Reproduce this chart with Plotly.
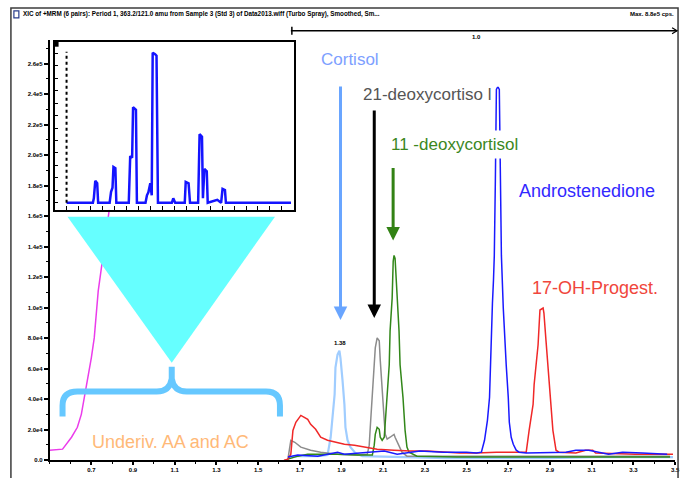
import plotly.graph_objects as go

W, H = 688, 481

# ---------------- data (time in min, intensity in cps) ----------------
# Underivatised AA/AC front (magenta)
t_mag = [0.500, 0.562, 0.605, 0.633, 0.652, 0.667, 0.681, 0.700, 0.714, 0.724, 0.733, 0.748, 0.767, 0.781, 0.786]
v_mag = [6500, 7200, 15000, 21500, 30000, 41000, 52800, 67100, 80100, 95100, 110800, 125700, 145300, 161600, 164200]

# 17-OH-Progesterone channel (red)
t_red = [1.624, 1.643, 1.657, 1.667, 1.681, 1.705, 1.738, 1.752, 1.776, 1.800, 1.833, 1.867, 1.914, 1.962,
         2.010, 2.071, 2.152, 2.229, 2.310, 2.390, 2.467, 2.548, 2.643, 2.738, 2.786, 2.800, 2.819, 2.824,
         2.833, 2.843, 2.848, 2.852, 2.867, 2.871, 2.881, 2.890, 2.895, 2.905, 2.914, 2.929, 2.943, 3.024,
         3.071, 3.105, 3.119, 3.310, 3.490]
v_red = [0, 650, 3900, 19500, 24800, 29300, 26700, 23500, 20200, 15000, 13000, 11700, 10400, 9800,
         8500, 7200, 6500, 5900, 5900, 5200, 4600, 4600, 5200, 5200, 5200, 19500, 36500, 49500,
         62500, 75600, 88600, 98400, 99700, 96400, 78200, 62500, 49500, 36500, 19500, 6500, 5200, 4600,
         6500, 6500, 4600, 3900, 3900]

# Androstenedione channel (blue)
t_blue = [1.643, 1.690, 1.786, 1.881, 1.914, 2.024, 2.105, 2.167, 2.276, 2.390, 2.500, 2.548, 2.571, 2.586,
          2.600, 2.610, 2.614, 2.619, 2.624, 2.629, 2.633, 2.638, 2.643, 2.648, 2.652, 2.657, 2.662, 2.667,
          2.676, 2.681, 2.690, 2.700, 2.705, 2.714, 2.724, 2.738, 2.752, 2.786, 2.976, 3.024, 3.086, 3.181,
          3.248, 3.343, 3.462]
v_blue = [2000, 3300, 2600, 5200, 3900, 5200, 5900, 3900, 5900, 5200, 5200, 4600, 5200, 13000,
          26100, 41000, 62500, 84700, 102900, 117900, 134200, 183100, 243000, 244300, 244300, 243000, 197400, 134200,
          99700, 84700, 62500, 41000, 24800, 15000, 10400, 6500, 5200, 4600, 5200, 6500, 6500, 3900,
          5200, 4600, 3900]

# 21-deoxycortisol channel (grey)
t_grey = [1.643, 1.657, 1.676, 1.705, 1.752, 1.800, 1.881, 1.976, 2.024, 2.033, 2.038, 2.048, 2.057, 2.062,
          2.071, 2.081, 2.086, 2.095, 2.105, 2.110, 2.119, 2.133, 2.152, 2.157, 2.176, 2.190, 2.214, 2.405,
          2.643, 2.881, 3.119, 3.357, 3.476]
v_grey = [650, 13000, 11700, 8500, 6500, 5200, 3900, 3300, 3900, 9800, 21500, 43000, 60600, 73600,
          80100, 78200, 65200, 43000, 26100, 16900, 13700, 15000, 16900, 15000, 9800, 5200, 2600, 2600,
          2600, 2600, 2600, 2600, 2600]

# 11-deoxycortisol channel (green)
t_green = [1.643, 1.690, 1.738, 1.881, 1.976, 2.048, 2.057, 2.062, 2.071, 2.081, 2.086, 2.095, 2.105, 2.119,
           2.129, 2.133, 2.143, 2.148, 2.152, 2.157, 2.167, 2.176, 2.181, 2.195, 2.205, 2.214, 2.224, 2.262,
           2.452, 2.738, 3.119, 3.476]
v_green = [650, 2600, 3900, 3900, 3300, 3300, 9800, 16900, 21500, 20200, 15000, 13000, 15000, 41000,
           62500, 84700, 106200, 130300, 134200, 132300, 110800, 84700, 62500, 41000, 19500, 8500, 5200, 2600,
           2000, 2000, 2000, 2000]

# Cortisol channel (light blue)
t_cort = [1.643, 1.690, 1.786, 1.833, 1.848, 1.857, 1.867, 1.871, 1.881, 1.890, 1.895, 1.905, 1.914, 1.919,
          1.929, 1.943, 1.967, 2.000, 2.167, 2.405, 2.643, 2.881, 3.119, 3.357, 3.490]
v_cort = [1300, 2600, 2600, 3300, 15000, 30000, 43000, 60600, 69100, 71700, 67100, 52100, 36500, 21500,
          13000, 8500, 4600, 2600, 2000, 1300, 1300, 1300, 2000, 2000, 2000]

# Inset: full-run chromatogram (relative intensity, %)
t_inset = [0.25, 0.80, 0.82, 0.85, 0.89, 0.91, 1.15, 1.18, 1.21, 1.23, 1.27, 1.29, 1.55, 1.58, 1.62, 1.64,
           1.70, 1.72, 1.90, 1.93, 1.96, 2.00, 2.03, 2.05, 2.10, 2.13, 2.16, 2.45, 2.48, 2.52, 2.72, 2.74,
           2.80, 2.83, 3.00, 3.03, 3.08, 3.10, 3.13, 3.18, 3.20, 3.40, 3.48, 3.51, 3.56, 3.58, 4.94]
v_inset = [0, 0, 3, 14.6, 13, 0, 0, 7.3, 10, 23.8, 23, 0, 0, 31.1, 30, 63.6,
           62, 0, 0, 5, 7, 13, 5, 100, 99, 98, 0, 0, 3, 0, 0, 13.9,
           13, 0, 0, 45.7, 44, 3, 22.5, 21, 0, 2, 0, 9.3, 8.5, 0, 0]

# tick labels
x_ticks = [0.7, 0.9, 1.1, 1.3, 1.5, 1.7, 1.9, 2.1, 2.3, 2.5, 2.7, 2.9, 3.1, 3.3, 3.5]
x_ticklabels = ["0.7", "0.9", "1.1", "1.3", "1.5", "1.7", "1.9", "2.1", "2.3", "2.5", "2.7", "2.9", "3.1", "3.3", "3.5"]
y_ticks = [0, 20000, 40000, 60000, 80000, 100000, 120000, 140000, 160000, 180000, 200000, 220000, 240000, 260000]
y_ticklabels = ["0.0", "2.0e4", "4.0e4", "6.0e4", "8.0e4", "1.0e5", "1.2e5", "1.4e5", "1.6e5", "1.8e5",
                "2.0e5", "2.2e5", "2.4e5", "2.6e5"]

# ---------------- figure ----------------
def PX(x):
    return x / W

def PY(y):
    return 1 - y / H

FONT = "Liberation Sans, Arial, sans-serif"

fig = go.Figure()

series = [
    (t_mag, v_mag, "rgb(235,60,235)", 1.5),
    (t_cort, v_cort, "rgb(160,205,255)", 2.2),
    (t_grey, v_grey, "rgb(140,140,140)", 1.5),
    (t_green, v_green, "rgb(50,135,25)", 1.5),
    (t_red, v_red, "rgb(240,40,40)", 1.5),
    (t_blue, v_blue, "rgb(25,25,255)", 1.5),
]
for tx, vy, col, w in series:
    fig.add_trace(go.Scatter(x=tx, y=vy, mode="lines", line=dict(color=col, width=w),
                             hoverinfo="skip", xaxis="x", yaxis="y"))

fig.add_trace(go.Scatter(x=t_inset, y=v_inset, mode="lines", line=dict(color="rgb(20,20,255)", width=2.5),
                         hoverinfo="skip", xaxis="x2", yaxis="y2"))

y_top = (463 - 40) * 20000 / 30.7

fig.update_layout(
    width=W, height=H,
    margin=dict(l=0, r=0, t=0, b=0),
    paper_bgcolor="white", plot_bgcolor="white",
    showlegend=False,
    font=dict(family=FONT, color="black"),
    xaxis=dict(domain=[PX(50), PX(680)], range=[0.5, 3.5], tickvals=x_ticks, ticktext=x_ticklabels,
               ticks="outside", ticklen=3, tickwidth=1.5, tickcolor="black",
               showline=True, linecolor="black", linewidth=1.5, showgrid=False, zeroline=False,
               tickfont=dict(size=6, color="black", weight="bold"),
               minor=dict(dtick=0.1, tick0=0.6, ticks="outside", ticklen=2, tickcolor="black", tickwidth=1.2),
               anchor="y"),
    yaxis=dict(domain=[PY(463), PY(40)], range=[0, y_top], tickvals=y_ticks, ticktext=y_ticklabels,
               ticks="outside", ticklen=4, tickwidth=1.5, tickcolor="black",
               showline=True, linecolor="black", linewidth=1.5, showgrid=False, zeroline=False,
               tickfont=dict(size=6, color="black", weight="bold"),
               minor=dict(dtick=10000, ticks="outside", ticklen=2, tickcolor="black", tickwidth=1.2),
               anchor="x"),
    xaxis2=dict(domain=[PX(55), PX(296)], range=[0, 5], showticklabels=False, ticks="inside",
                ticklen=4, dtick=0.25, tickcolor="black", showline=True, mirror=True,
                linecolor="black", linewidth=2, showgrid=False, zeroline=False, anchor="y2"),
    yaxis2=dict(domain=[PY(211), PY(42)], range=[-4.6, 107.3], showticklabels=False, ticks="inside",
                ticklen=3, dtick=8.3, tickcolor="black", showline=True, mirror=True,
                linecolor="black", linewidth=2, showgrid=False, zeroline=False, anchor="x2"),
)

shapes = []
# outer frame
shapes.append(dict(type="path", xref="paper", yref="paper",
                   path=f"M {PX(11)},{PY(481)} L {PX(11)},{PY(8)} L {PX(683)},{PY(8)} L {PX(683)},{PY(481)}",
                   line=dict(color="rgb(60,60,60)", width=1.5)))
# inset dotted axis
shapes.append(dict(type="line", xref="x2", yref="y2", x0=0.25, x1=0.25, y0=0, y1=100.7,
                   line=dict(color="black", width=2, dash="dot")))
shapes.append(dict(type="rect", xref="paper", yref="paper", x0=PX(55), x1=PX(59), y0=PY(47), y1=PY(42),
                   fillcolor="black", line=dict(width=0)))
# cyan triangle
shapes.append(dict(type="path", xref="paper", yref="paper", layer="above",
                   path=f"M {PX(68)},{PY(218)} L {PX(277)},{PY(218)} L {PX(173)},{PY(365)} Z",
                   fillcolor="rgb(102,255,255)", line=dict(width=0)))
# curly brace
brace = (f"M {PX(63)},{PY(419)} L {PX(63)},{PY(408)} Q {PX(63)},{PY(394)} {PX(78)},{PY(394)} "
         f"L {PX(158)},{PY(394)} Q {PX(171)},{PY(394)} {PX(173)},{PY(381)} L {PX(173)},{PY(369)} "
         f"M {PX(173)},{PY(381)} Q {PX(175)},{PY(394)} {PX(188)},{PY(394)} "
         f"L {PX(268)},{PY(394)} Q {PX(282)},{PY(394)} {PX(282)},{PY(408)} L {PX(282)},{PY(419)}")
shapes.append(dict(type="path", xref="paper", yref="paper", layer="above", path=brace,
                   line=dict(color="rgb(102,200,255)", width=6)))
# top range bar
shapes.append(dict(type="line", xref="paper", yref="paper", x0=PX(293), x1=PX(682), y0=PY(31), y1=PY(31),
                   line=dict(color="black", width=1.5)))
shapes.append(dict(type="line", xref="paper", yref="paper", x0=PX(294), x1=PX(294), y0=PY(27), y1=PY(35),
                   line=dict(color="black", width=1.5)))
shapes.append(dict(type="path", xref="paper", yref="paper",
                   path=f"M {PX(677)},{PY(28)} L {PX(682)},{PY(31)} L {PX(677)},{PY(34)}",
                   line=dict(color="black", width=1.2)))
# header icon
shapes.append(dict(type="rect", xref="paper", yref="paper", x0=PX(14), x1=PX(19), y0=PY(18), y1=PY(11),
                   line=dict(color="rgb(40,60,140)", width=1.2), fillcolor="white"))
fig.update_layout(shapes=shapes)

ann = []
def label(text, x, y, color, size=17, xanchor="left", bg=None, pad=1, weight="normal"):
    d = dict(text=text, x=PX(x), y=PY(y), xref="paper", yref="paper", showarrow=False,
             xanchor=xanchor, yanchor="middle", font=dict(family=FONT, size=size, color=color, weight=weight),
             borderpad=pad)
    if bg:
        d["bgcolor"] = bg
    ann.append(d)

label("Cortisol", 321, 60, "rgb(125,160,255)")
label("21-deoxycortiso l", 364, 95, "rgb(85,85,85)")
label("11 -deoxycortisol", 389, 145, "rgb(60,135,30)", bg="white", pad=4)
label("Androstenedione", 521, 192, "rgb(50,40,255)", size=18)
label("17-OH-Progest.", 534, 290, "rgb(240,70,60)", size=18)
label("Underiv. AA and AC", 172, 445, "rgb(255,185,120)", size=18, xanchor="center")
label("1.38", 342, 345, "black", size=6, xanchor="center", weight="bold")
label("1.0", 480, 37, "black", size=6, xanchor="center", weight="bold")
label("XIC of +MRM (6 pairs): Period 1, 363.2/121.0 amu from Sample 3 (Std 3) of Data2013.wiff (Turbo Spray), Smoothed, Sm...",
      21, 14, "black", size=6.3, weight="bold")
label("Max. 8.8e5 cps.", 681, 14, "black", size=6, xanchor="right", weight="bold")

def arrow(x, y_tip, y_tail, color):
    ann.append(dict(x=PX(x), y=PY(y_tip), xref="paper", yref="paper", text="", showarrow=True,
                    ax=0, ay=-(y_tip - y_tail), arrowhead=2, arrowsize=0.9, arrowwidth=3,
                    arrowcolor=color))

arrow(343, 322, 87, "rgb(105,165,255)")
arrow(377, 320, 111, "black")
arrow(396, 242, 168, "rgb(50,130,20)")

fig.update_layout(annotations=ann)

fig.write_html("out.html", config={"displayModeBar": False},
               post_script="document.body.style.margin='0';document.body.style.overflow='hidden';")
